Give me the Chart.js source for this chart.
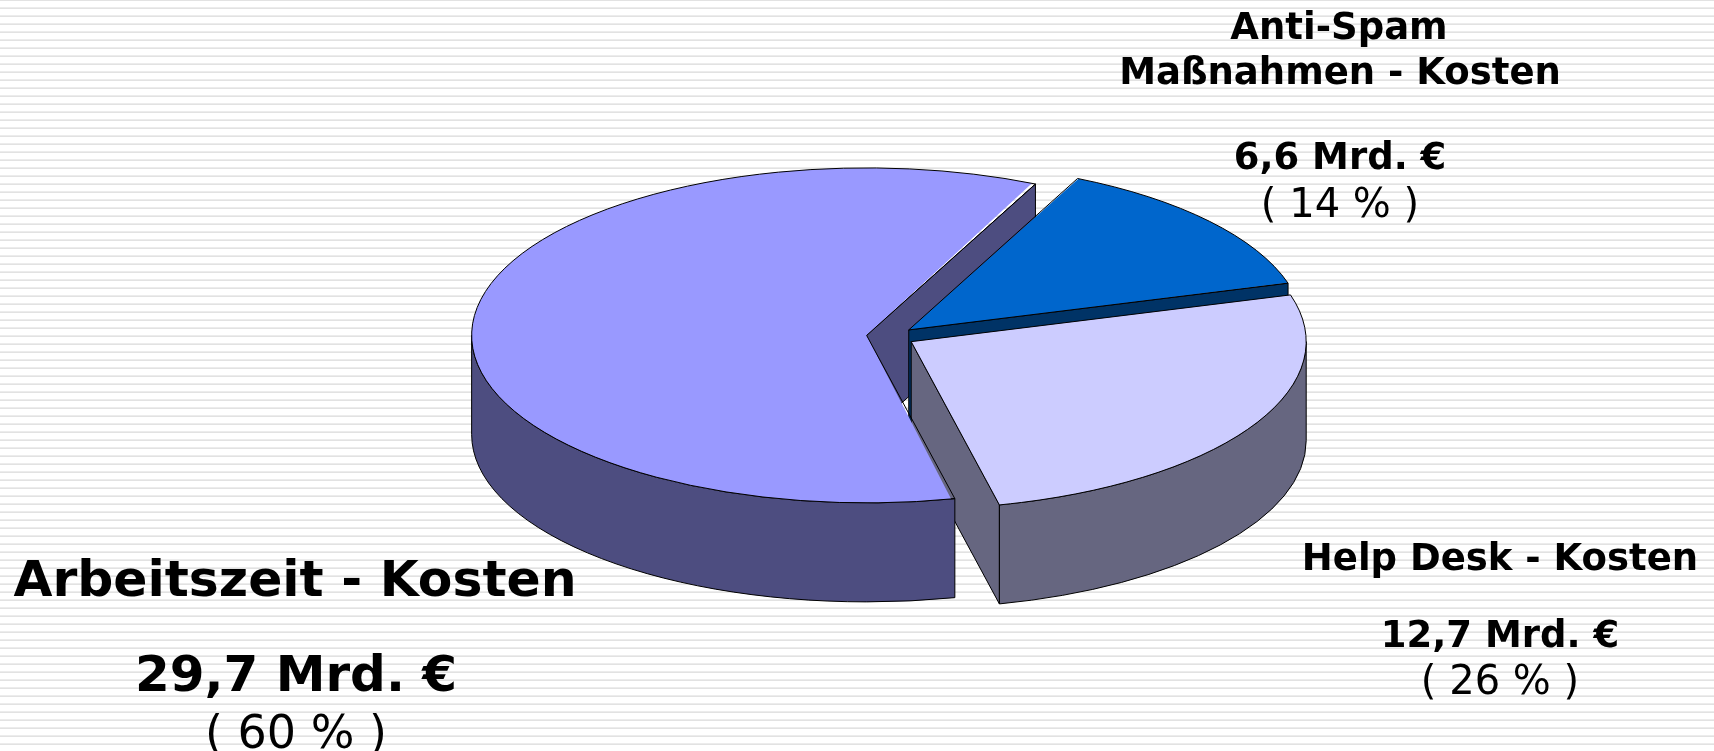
<!DOCTYPE html>
<html>
<head>
<meta charset="utf-8">
<title>Kosten</title>
<script src="https://cdn.jsdelivr.net/npm/chart.js@4"></script>
<style>
  html, body { margin: 0; padding: 0; overflow: hidden; }
  body {
    width: 1714px; height: 751px;
    /* two grey rows every 8px */
    background: linear-gradient(to bottom, #e2e2e2 0, #e2e2e2 1px, #fff 1px, #fff 7px, #ececec 7px, #ececec 8px);
    background-size: 100% 8px;
  }
  canvas { display: block; }
</style>
</head>
<body>
<canvas id="costChart" width="1714" height="751"></canvas>
<script>
// data
const categories = ['Anti-Spam Maßnahmen - Kosten', 'Help Desk - Kosten', 'Arbeitszeit - Kosten'];
const costs = [6.6, 12.7, 29.7];
const shares = [14, 26, 60];
const topColors = ['#0066CC', '#CCCCFF', '#9999FF'];
const sideColors = ['#003366', '#666680', '#4D4D80'];

// fake 3D settings
const tilt = 0.424;
const depth = 99;
const pieRadius = 395;
const explode = 24;
const centerY = 336.5;

const canvas = document.getElementById('costChart');
const midY = canvas.height / 2;

// y on the page for a y in the flat (not tilted) chart
const tiltY = y => centerY + tilt * (y - midY);

function sliceCenter(arc) {
  const half = (arc.startAngle + arc.endAngle) / 2;
  return { x: arc.x + Math.cos(half) * explode, y: tiltY(arc.y + Math.sin(half) * explode) };
}

function paint(ctx, color) {
  ctx.fillStyle = color;
  ctx.fill();
  ctx.strokeStyle = '#000';
  ctx.lineWidth = 1;
  ctx.stroke();
}

const pie3d = {
  id: 'pie3d',
  // library grows some slices by its offset, take that back so all have one radius
  afterDatasetsUpdate(chart) {
    chart.getDatasetMeta(0).data.forEach(arc => {
      const fix = 1 - Math.sin(Math.min(Math.PI, arc.circumference));
      arc.outerRadius = pieRadius - explode * fix;
    });
  },
  beforeDatasetsDraw(chart) {
    const ctx = chart.ctx;
    const arcs = chart.getDatasetMeta(0).data;
    const ry = pieRadius * tilt;

    // cut faces and outer walls, back to front
    [2, 0, 1].forEach(i => {
      const arc = arcs[i];
      const c = sliceCenter(arc);
      const ex = c.x + Math.cos(arc.endAngle) * pieRadius;
      const ey = c.y + Math.sin(arc.endAngle) * ry;
      ctx.beginPath();
      ctx.moveTo(c.x, c.y);
      ctx.lineTo(ex, ey);
      ctx.lineTo(ex, ey + depth);
      ctx.lineTo(c.x, c.y + depth);
      ctx.closePath();
      paint(ctx, sideColors[i]);
    });
    [1, 2].forEach(i => {
      const arc = arcs[i];
      const c = sliceCenter(arc);
      const from = Math.max(arc.startAngle, 0);
      const to = Math.min(arc.endAngle, Math.PI);
      ctx.beginPath();
      ctx.ellipse(c.x, c.y, pieRadius, ry, 0, from, to);
      ctx.ellipse(c.x, c.y + depth, pieRadius, ry, 0, to, from, true);
      ctx.closePath();
      paint(ctx, sideColors[i]);
    });

    // top faces are drawn by the library, squashed
    ctx.save();
    ctx.translate(0, centerY);
    ctx.scale(1, tilt);
    ctx.translate(0, -midY);
  },
  afterDatasetsDraw(chart) {
    const ctx = chart.ctx;
    ctx.restore();
    // outline here so the line does not get squashed too
    chart.getDatasetMeta(0).data.forEach(arc => {
      const c = sliceCenter(arc);
      ctx.beginPath();
      ctx.moveTo(c.x, c.y);
      ctx.ellipse(c.x, c.y, pieRadius, pieRadius * tilt, 0, arc.startAngle, arc.endAngle);
      ctx.closePath();
      ctx.strokeStyle = '#000';
      ctx.lineWidth = 1;
      ctx.stroke();
    });
  }
};

const amountText = i => String(costs[i]).replace('.', ',') + ' Mrd. €';
const shareText = i => '( ' + shares[i] + ' % )';

function text(ctx, str, x, y, weight, size) {
  ctx.font = weight + ' ' + size + 'px "DejaVu Sans"';
  ctx.fillText(str, x, y);
}

const sliceLabels = {
  id: 'sliceLabels',
  afterDraw(chart) {
    const ctx = chart.ctx;
    ctx.save();
    ctx.fillStyle = '#000';
    ctx.textAlign = 'center';
    ctx.textBaseline = 'alphabetic';

    // Anti-Spam, name is split over two lines
    text(ctx, 'Anti-Spam', 1339, 39, 'bold', 37);
    text(ctx, categories[0].replace('Anti-Spam ', ''), 1340, 84, 'bold', 37);
    text(ctx, amountText(0), 1340, 169, 'bold', 37);
    text(ctx, shareText(0), 1340, 217, 'normal', 40);

    text(ctx, categories[1], 1500, 570, 'bold', 37);
    text(ctx, amountText(1), 1500, 647, 'bold', 37);
    text(ctx, shareText(1), 1500, 694, 'normal', 40);

    text(ctx, categories[2], 295, 596, 'bold', 50.4);
    text(ctx, amountText(2), 296, 691, 'bold', 50);
    text(ctx, shareText(2), 296, 748, 'normal', 46);
    ctx.restore();
  }
};

new Chart(canvas, {
  type: 'pie',
  data: {
    labels: categories,
    datasets: [{
      data: costs,
      backgroundColor: topColors,
      borderWidth: 0,
      offset: explode * 4, // arc element uses a quarter of this
      clip: false
    }]
  },
  options: {
    responsive: false,
    animation: false,
    rotation: 25.3,
    radius: pieRadius,
    layout: { padding: { left: 67 } },
    events: [],
    plugins: { legend: { display: false }, tooltip: { enabled: false } }
  },
  plugins: [pie3d, sliceLabels]
});
</script>
</body>
</html>
